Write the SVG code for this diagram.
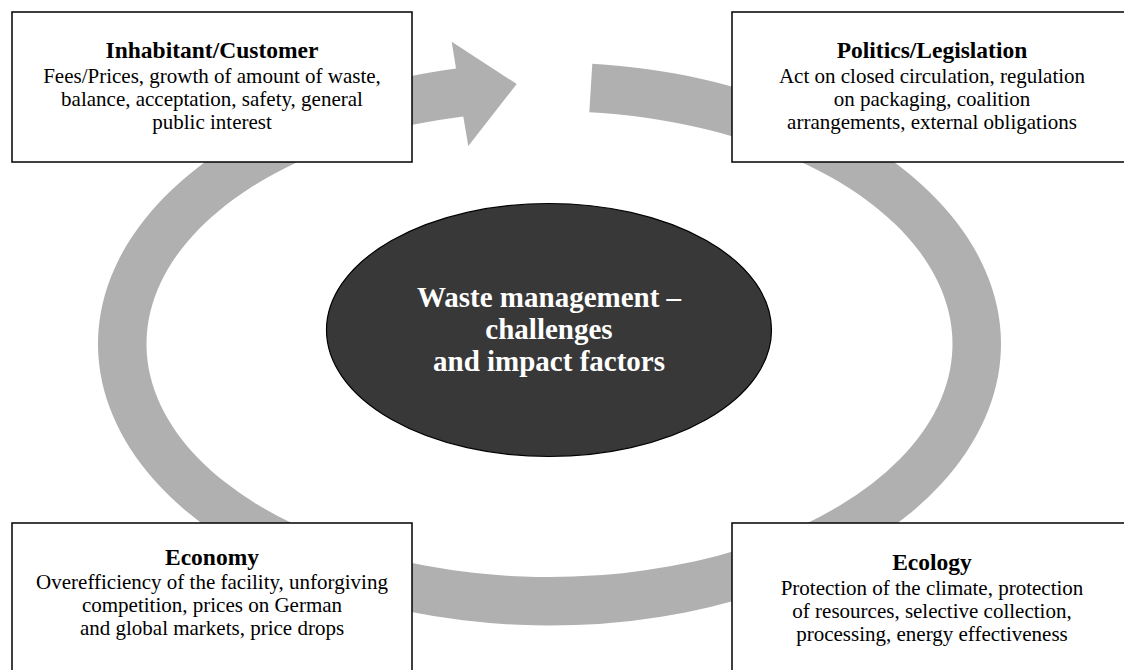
<svg xmlns="http://www.w3.org/2000/svg" width="1124" height="670" viewBox="0 0 1124 670">
  <style>
    .box { fill: #ffffff; stroke: #000000; stroke-width: 1.5; }
    .title { font-family: "Liberation Serif", "Times New Roman", serif; font-weight: bold; font-size: 23.5px; fill: #000000; text-anchor: middle; }
    .body { font-family: "Liberation Serif", "Times New Roman", serif; font-size: 21px; fill: #000000; text-anchor: middle; }
    .center { font-family: "Liberation Serif", "Times New Roman", serif; font-weight: bold; font-size: 29px; fill: #ffffff; text-anchor: middle; }
  </style>
  <rect x="0" y="0" width="1124" height="670" fill="#ffffff"/>
  <g id="connectors">
    <path id="cycle-arrow" fill="#b0b0b0" d="M592.3,63.77 A451.5,281.5 0 1 1 456,68.6 L451.7,41.7 L516.7,84 L468.3,146 L463.3,116.39 A403,233 0 1 0 589.3,112.14 Z"/>
  </g>
  <g id="center">
    <ellipse cx="549" cy="330" rx="222.5" ry="126.5" fill="#383838" stroke="#000000" stroke-width="1.2"/>
    <text class="center" x="549" y="307">Waste management –</text>
    <text class="center" x="549" y="339">challenges</text>
    <text class="center" x="549" y="370.5">and impact factors</text>
  </g>
  <g id="inhabitant">
    <rect class="box" x="12" y="12" width="400" height="150"/>
    <text class="title" x="212" y="58">Inhabitant/Customer</text>
    <text class="body" x="212" y="82.5">Fees/Prices, growth of amount of waste,</text>
    <text class="body" x="212" y="105.5">balance, acceptation, safety, general</text>
    <text class="body" x="212" y="128.5">public interest</text>
  </g>
  <g id="politics">
    <rect class="box" x="732" y="12" width="401" height="150"/>
    <text class="title" x="932" y="58">Politics/Legislation</text>
    <text class="body" x="932" y="82.5">Act on closed circulation, regulation</text>
    <text class="body" x="932" y="105.5">on packaging, coalition</text>
    <text class="body" x="932" y="128.5">arrangements, external obligations</text>
  </g>
  <g id="economy">
    <rect class="box" x="12" y="523" width="400" height="160"/>
    <text class="title" x="212" y="564.5">Economy</text>
    <text class="body" x="212" y="589">Overefficiency of the facility, unforgiving</text>
    <text class="body" x="212" y="612">competition, prices on German</text>
    <text class="body" x="212" y="635">and global markets, price drops</text>
  </g>
  <g id="ecology">
    <rect class="box" x="732" y="523" width="401" height="160"/>
    <text class="title" x="932" y="569.5">Ecology</text>
    <text class="body" x="932" y="594.5">Protection of the climate, protection</text>
    <text class="body" x="932" y="617.5">of resources, selective collection,</text>
    <text class="body" x="932" y="640.5">processing, energy effectiveness</text>
  </g>
</svg>
